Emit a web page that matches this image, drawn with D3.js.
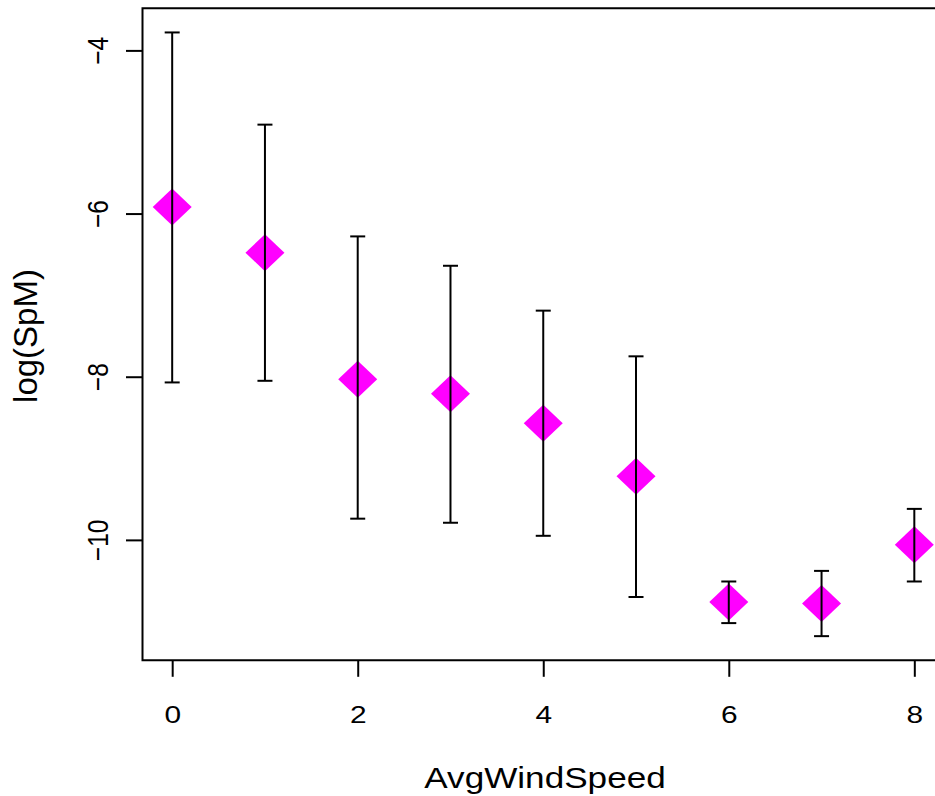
<!DOCTYPE html>
<html>
<head>
<meta charset="utf-8">
<script src="https://cdn.jsdelivr.net/npm/d3@7"></script>
<style>
  html, body { margin: 0; padding: 0; background: #fff; overflow: hidden; }
  svg { display: block; }
  text { font-family: "Liberation Sans", Arial, Helvetica, sans-serif; fill: #000; }
</style>
</head>
<body>
<svg id="chart" width="935" height="796"></svg>
<script>
// Mean log(SpM) per average wind speed, with lower/upper error bar ends
const windSpeed = [0, 1, 2, 3, 4, 5, 6, 7, 8];
const meanLogSpM = [-5.92, -6.48, -8.03, -8.21, -8.57, -9.22, -10.76, -10.78, -10.06];
const lowerLogSpM = [-8.07, -8.05, -9.74, -9.79, -9.95, -10.70, -11.02, -11.18, -10.51];
const upperLogSpM = [-3.78, -4.91, -6.28, -6.64, -7.19, -7.75, -10.51, -10.38, -9.62];
const xTicks = [0, 2, 4, 6, 8];
const yTicks = [-4, -6, -8, -10];
const xTitle = "AvgWindSpeed";
const yTitle = "log(SpM)";

const svg = d3.select("#chart");

// Plot region (right edge runs past the window)
const plotLeft = 142.5, plotRight = 944, plotTop = 8.3, plotBottom = 660.3;

// Axis limits padded by 4% on each side of the data range
function padded(lo, hi) { const p = (hi - lo) * 0.04; return [lo - p, hi + p]; }
const xDom = padded(d3.min(windSpeed), d3.max(windSpeed));
const yDom = padded(d3.min(lowerLogSpM), d3.max(upperLogSpM));

const x = d3.scaleLinear().domain(xDom).range([plotLeft, plotRight]);
const y = d3.scaleLinear().domain(yDom).range([plotBottom, plotTop]);

const textStretch = 1.22;
const tickLen = 16.5;

// Diamonds
const hw = 19.5, hh = 18.5;
svg.append("g").selectAll("path")
  .data(windSpeed)
  .join("path")
  .attr("d", (d, i) => {
    const cx = x(d), cy = y(meanLogSpM[i]);
    return `M${cx - hw},${cy}L${cx},${cy - hh}L${cx + hw},${cy}L${cx},${cy + hh}Z`;
  })
  .attr("fill", "#ff00ff");

// Error bars with caps, drawn over the diamonds
const capHalf = 7.5;
const eb = svg.append("g").attr("stroke", "#000").attr("stroke-width", 2).attr("fill", "none");
windSpeed.forEach((d, i) => {
  const cx = x(d), y0 = y(lowerLogSpM[i]), y1 = y(upperLogSpM[i]);
  eb.append("line").attr("x1", cx).attr("x2", cx).attr("y1", y0).attr("y2", y1);
  eb.append("line").attr("x1", cx - capHalf).attr("x2", cx + capHalf).attr("y1", y0).attr("y2", y0);
  eb.append("line").attr("x1", cx - capHalf).attr("x2", cx + capHalf).attr("y1", y1).attr("y2", y1);
});

// Frame around the plot
svg.append("path")
  .attr("d", `M${plotRight},${plotTop}H${plotLeft}V${plotBottom}H${plotRight}`)
  .attr("fill", "none").attr("stroke", "#000").attr("stroke-width", 2);

// X axis
const xAxis = svg.append("g")
  .attr("transform", `translate(0,${plotBottom})`)
  .call(d3.axisBottom(x).tickValues(xTicks).tickSize(tickLen).tickSizeOuter(0).tickFormat(d3.format("d")));
xAxis.select(".domain").remove();
xAxis.selectAll(".tick line").attr("stroke", "#000").attr("stroke-width", 2);
xAxis.selectAll(".tick text")
  .attr("y", null).attr("dy", null)
  .attr("font-size", 24.5)
  .attr("text-anchor", "middle")
  .attr("transform", `translate(0,63) scale(${textStretch},1)`);

// Y axis
const yAxis = svg.append("g")
  .attr("transform", `translate(${plotLeft},0)`)
  .call(d3.axisLeft(y).tickValues(yTicks).tickSize(tickLen).tickSizeOuter(0).tickFormat(d3.format("d")));
yAxis.select(".domain").remove();
yAxis.selectAll(".tick line").attr("stroke", "#000").attr("stroke-width", 2);
yAxis.selectAll(".tick text")
  .attr("x", null).attr("dy", null)
  .attr("font-size", 24.5)
  .attr("text-anchor", "middle")
  .attr("transform", `translate(-34.2,0) scale(${textStretch},1) rotate(-90)`);

// Axis titles
svg.append("text")
  .attr("font-size", 28.8)
  .attr("text-anchor", "middle")
  .attr("transform", `translate(545,788.3) scale(${textStretch},1)`)
  .text(xTitle);

svg.append("text")
  .attr("font-size", 33)
  .attr("text-anchor", "middle")
  .attr("transform", `translate(36.7,336) rotate(-90)`)
  .text(yTitle);
</script>
</body>
</html>
